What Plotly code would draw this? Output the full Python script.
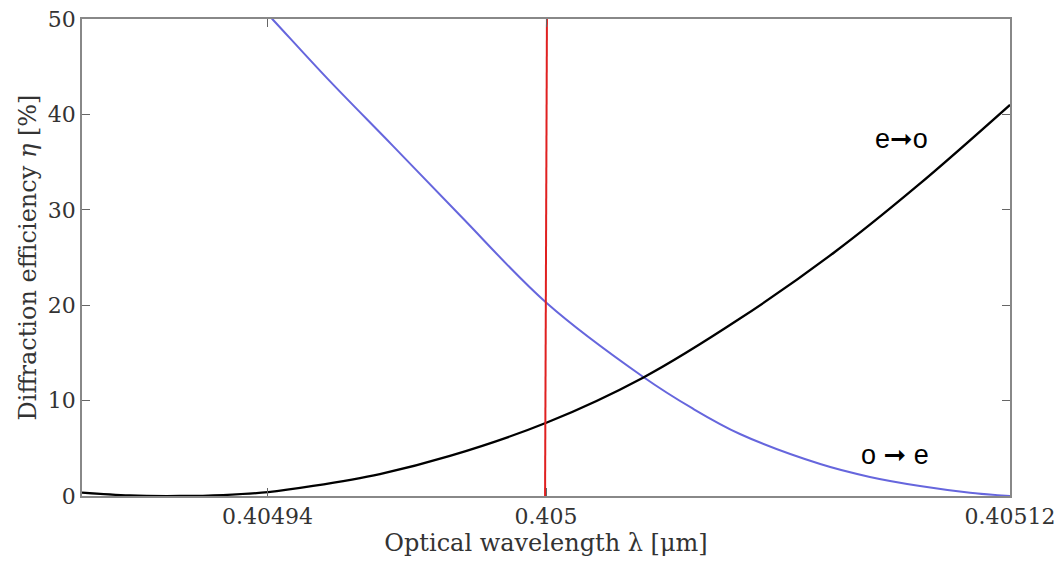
import plotly.graph_objects as go

# Data (wavelength in µm, efficiency in %)
lam_eo = [0.4049000, 0.4049103, 0.4049211, 0.4049304, 0.4049401, 0.4049498,
          0.4049642, 0.4049793, 0.4050002, 0.4050209, 0.4050418, 0.4050623,
          0.4050800, 0.4051000]
eta_eo = [0.35, 0.05, 0.0, 0.1, 0.4, 1.05, 2.3, 4.2, 7.7, 12.4, 18.6, 25.6, 32.5, 41.0]

lam_oe = [0.4049362, 0.4049412, 0.4049528, 0.4049670, 0.4049815, 0.4050002,
          0.4050209, 0.4050315, 0.4050418, 0.4050591, 0.4050698, 0.4050806,
          0.4050914, 0.4051000]
eta_oe = [52.5, 49.9, 43.8, 36.7, 29.4, 20.2, 12.5, 9.2, 6.5, 3.35, 2.0, 1.05, 0.35, 0.0]

lam_line = [0.4049998, 0.4050002]
eta_line = [0, 50]

x_range = [0.4049, 0.4051]
y_range = [0, 50]
x_tickvals = [0.40494, 0.405, 0.4051]
x_ticktext = ["0.40494", "0.405", "0.40512"]
y_tickvals = [0, 10, 20, 30, 40, 50]

fig = go.Figure()
fig.add_trace(go.Scatter(x=lam_oe, y=eta_oe, mode="lines",
                         line=dict(color="#6666dd", width=2, shape="spline", smoothing=1.0),
                         showlegend=False))
fig.add_trace(go.Scatter(x=lam_eo, y=eta_eo, mode="lines",
                         line=dict(color="black", width=2.3, shape="spline", smoothing=1.0),
                         showlegend=False))
fig.add_trace(go.Scatter(x=lam_line, y=eta_line, mode="lines",
                         line=dict(color="#e02020", width=2),
                         showlegend=False))

axis_common = dict(showline=True, linecolor="#888888", linewidth=1.5,
                   mirror="ticks", ticks="inside", ticklen=8, tickcolor="#666666",
                   showgrid=False, zeroline=False, automargin=False,
                   ticklabeloverflow="allow",
                   tickfont=dict(family="DejaVu Serif", size=22, color="#333333"))

fig.update_xaxes(range=x_range, tickvals=x_tickvals, ticktext=x_ticktext,
                 title=dict(text="Optical wavelength λ [μm]",
                            font=dict(family="DejaVu Serif", size=24, color="#333333"),
                            standoff=4),
                 **axis_common)
fig.update_yaxes(range=y_range, tickvals=y_tickvals,
                 title=dict(text="Diffraction efficiency <i>η</i> [%]",
                            font=dict(family="DejaVu Serif", size=24, color="#333333"),
                            standoff=4),
                 **axis_common)

arrow = "<span style='font-family:DejaVu Sans'>➞</span>"
fig.add_annotation(x=0.4050767, y=37.5, text="e" + arrow + "o", showarrow=False,
                   font=dict(family="Liberation Sans", size=27, color="black"))
fig.add_annotation(x=0.4050752, y=4.3, text="o " + arrow + " e", showarrow=False,
                   font=dict(family="Liberation Sans", size=27, color="black"))

# page body has an 8px margin, so the figure is sized to fill the rest of the window
fig.update_layout(width=1055, height=571,
                  margin=dict(l=74, r=53, t=11, b=83),
                  plot_bgcolor="white", paper_bgcolor="white")

fig.write_html("out.html")
